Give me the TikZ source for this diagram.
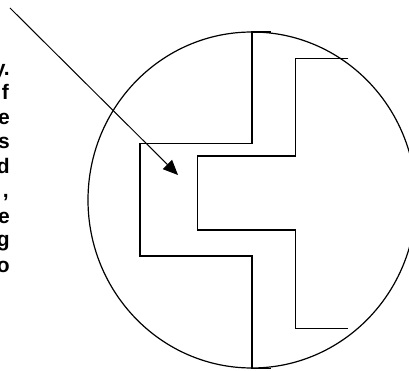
\documentclass[tikz,border=0pt]{standalone}
\usepackage{fontspec}
\setmainfont{Liberation Sans}
\usetikzlibrary{arrows.meta}
\begin{document}
\begin{tikzpicture}[x=1pt,y=-1pt,
  ln/.style={line width=1.2pt,line join=miter},
  txt/.style={anchor=base east,inner sep=0pt,font=\fontsize{21}{25}\selectfont\bfseries}]
\useasboundingbox (0,0) rectangle (409,371);
\clip (0,0) rectangle (409,371);
\fill[white] (0,0) rectangle (409,371);
% text fragments
\node[txt] (t1) at (10,76) {y.};
\node[txt] (t2) at (9,100) {f};
\node[txt] (t3) at (10,125) {e};
\node[txt] (t4) at (10,149) {s};
\node[txt] (t5) at (10,174) {d};
\node[txt] (t6) at (9,198) {,};
\node[txt] (t7) at (10,223) {e};
\node[txt] (t8) at (10,247) {g};
\node[txt] (t9) at (10,272) {o};
% circle
\draw[ln] (252,200) ellipse [x radius=164, y radius=168];
% outer polyline
\draw[ln] (270.7,32) -- (252,32) -- (252,143.3) -- (140,143.3) -- (140,256)
  -- (252,256) -- (252,368.5) -- (270.7,368.5);
% inner polyline
\draw[ln] (348.3,58.3) -- (295.7,58.3) -- (295.7,156) -- (197.7,156)
  -- (197.7,230) -- (295.7,230) -- (295.7,328.3) -- (348.3,328.3);
% arrow
\coordinate (as) at (10,8);
\coordinate (ae) at (178,175);
\draw[line width=1pt,-{Triangle[length=15pt,width=13pt]}] (as) -- (ae);
\end{tikzpicture}
\end{document}
